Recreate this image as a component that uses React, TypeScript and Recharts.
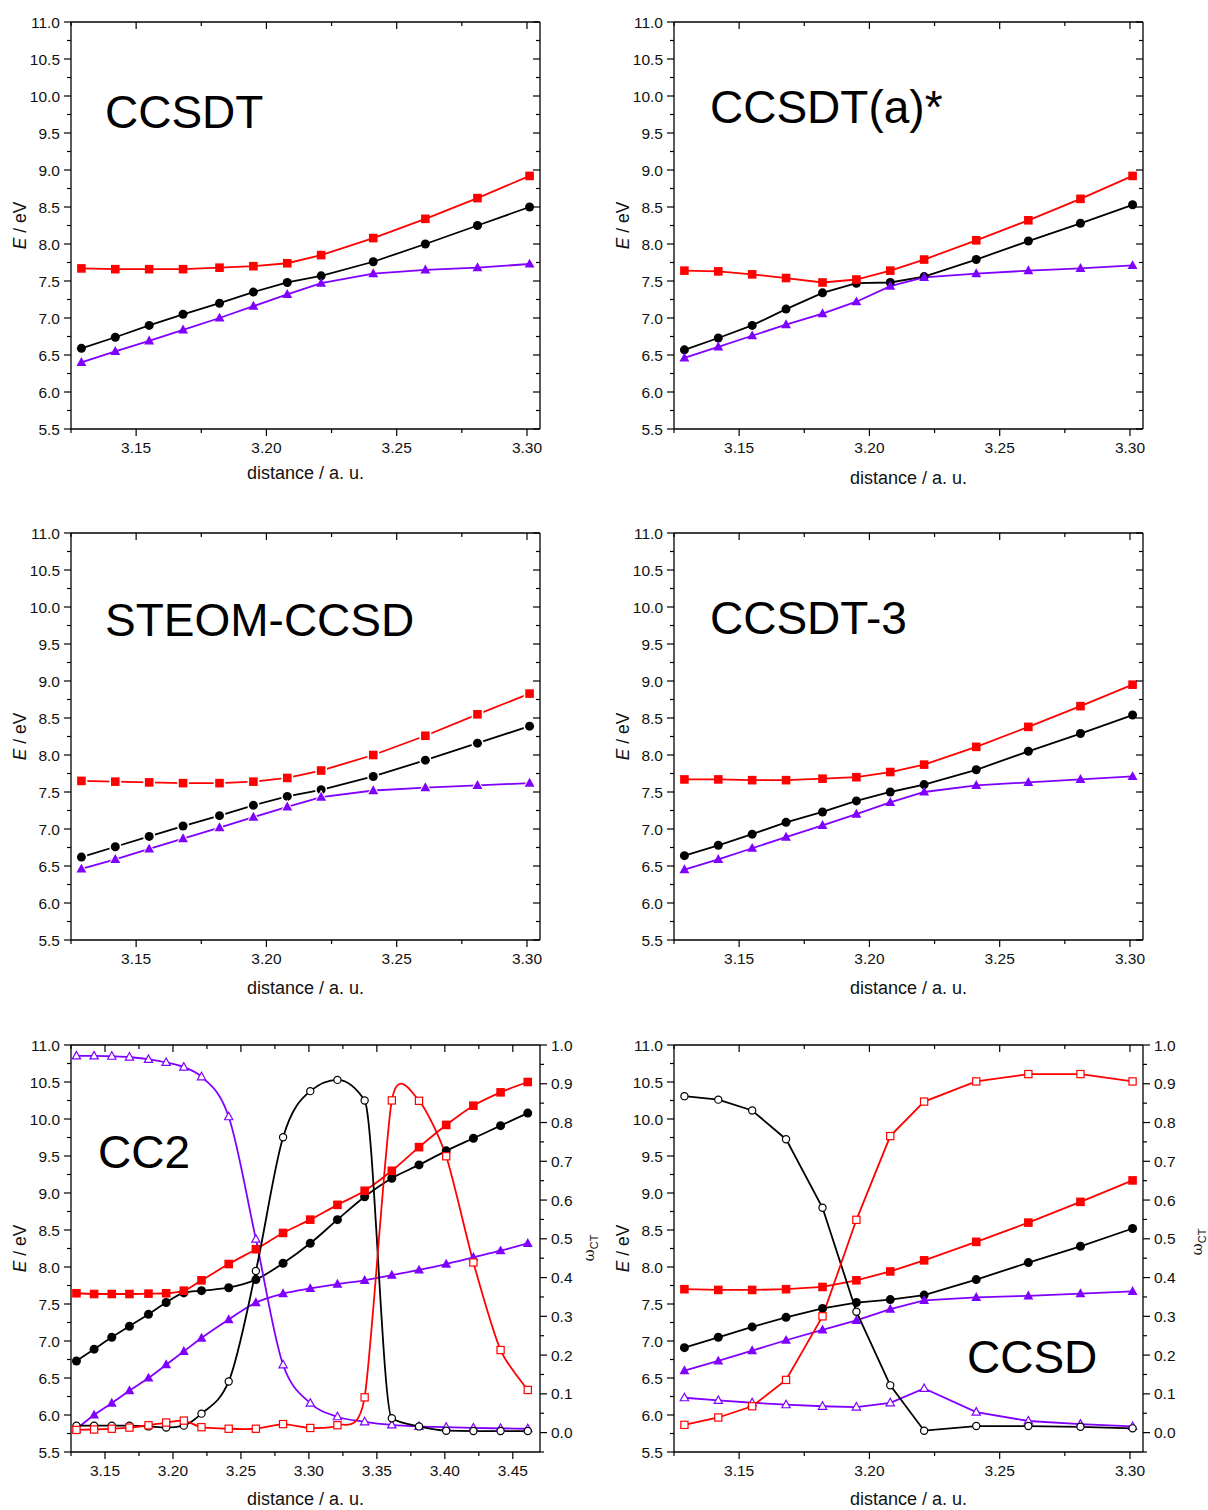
import React from "react";
import { LineChart, Line, XAxis, YAxis } from "recharts";

const FONT = '"Liberation Sans", Arial, sans-serif';
const RED = "#ff0000";
const BLACK = "#000000";
const VIOLET = "#8000ff";

// distances (a. u.)
const DIST = [3.129, 3.142, 3.155, 3.168, 3.182, 3.195, 3.208, 3.221, 3.241, 3.261, 3.281, 3.301];
const DIST_CC2 = [
  3.129, 3.142, 3.155, 3.168, 3.182, 3.195, 3.208, 3.221, 3.241, 3.261,
  3.281, 3.301, 3.321, 3.341, 3.361, 3.381, 3.401, 3.421, 3.441, 3.461,
];

// ticks
const X_TICKS = [3.125, 3.15, 3.175, 3.2, 3.225, 3.25, 3.275, 3.3];
const X_TICKS_CC2 = [3.125, 3.15, 3.175, 3.2, 3.225, 3.25, 3.275, 3.3, 3.325, 3.35, 3.375, 3.4, 3.425, 3.45];
const X_MAJOR = [3.15, 3.2, 3.25, 3.3, 3.35, 3.4, 3.45];
const E_TICKS = [5.5, 5.75, 6, 6.25, 6.5, 6.75, 7, 7.25, 7.5, 7.75, 8, 8.25, 8.5, 8.75, 9, 9.25, 9.5, 9.75, 10, 10.25, 10.5, 10.75, 11];
const E_MAJOR = [5.5, 6, 6.5, 7, 7.5, 8, 8.5, 9, 9.5, 10, 10.5, 11];
const W_TICKS = [-0.05, 0, 0.05, 0.1, 0.15, 0.2, 0.25, 0.3, 0.35, 0.4, 0.45, 0.5, 0.55, 0.6, 0.65, 0.7, 0.75, 0.8, 0.85, 0.9, 0.95, 1];
const W_MAJOR = [0, 0.1, 0.2, 0.3, 0.4, 0.5, 0.6, 0.7, 0.8, 0.9, 1];

// CCSDT
const CCSDT_RED = [7.67, 7.66, 7.66, 7.66, 7.68, 7.7, 7.74, 7.85, 8.08, 8.34, 8.62, 8.92];
const CCSDT_BLACK = [6.59, 6.74, 6.9, 7.05, 7.2, 7.35, 7.48, 7.57, 7.76, 8.0, 8.25, 8.5];
const CCSDT_VIOLET = [6.4, 6.55, 6.69, 6.84, 7.0, 7.16, 7.32, 7.47, 7.6, 7.65, 7.68, 7.73];

// CCSDT(a)*
const CCSDTA_RED = [7.64, 7.63, 7.59, 7.54, 7.48, 7.52, 7.64, 7.79, 8.05, 8.32, 8.61, 8.92];
const CCSDTA_BLACK = [6.57, 6.73, 6.9, 7.12, 7.34, 7.47, 7.48, 7.56, 7.79, 8.04, 8.28, 8.53];
const CCSDTA_VIOLET = [6.46, 6.61, 6.76, 6.91, 7.06, 7.22, 7.43, 7.55, 7.6, 7.64, 7.67, 7.71];

// STEOM-CCSD
const STEOM_RED = [7.65, 7.64, 7.63, 7.62, 7.62, 7.64, 7.69, 7.79, 8.0, 8.26, 8.55, 8.83];
const STEOM_BLACK = [6.62, 6.76, 6.9, 7.04, 7.18, 7.32, 7.44, 7.53, 7.71, 7.93, 8.16, 8.39];
const STEOM_VIOLET = [6.46, 6.59, 6.73, 6.87, 7.02, 7.16, 7.3, 7.43, 7.52, 7.56, 7.59, 7.62];

// CCSDT-3
const CCSDT3_RED = [7.67, 7.67, 7.66, 7.66, 7.68, 7.7, 7.77, 7.87, 8.11, 8.38, 8.66, 8.95];
const CCSDT3_BLACK = [6.64, 6.78, 6.93, 7.09, 7.23, 7.38, 7.5, 7.6, 7.8, 8.05, 8.29, 8.54];
const CCSDT3_VIOLET = [6.45, 6.59, 6.74, 6.89, 7.05, 7.2, 7.36, 7.5, 7.59, 7.63, 7.67, 7.71];

// CC2: energies and CT weights
const CC2_RED = [7.645, 7.635, 7.635, 7.635, 7.64, 7.645, 7.68, 7.82, 8.04, 8.24, 8.46, 8.64, 8.84, 9.03, 9.3, 9.62, 9.92, 10.18, 10.36, 10.5];
const CC2_BLACK = [6.73, 6.89, 7.05, 7.2, 7.36, 7.52, 7.65, 7.68, 7.72, 7.83, 8.05, 8.32, 8.64, 8.95, 9.2, 9.38, 9.57, 9.74, 9.91, 10.08];
const CC2_VIOLET = [5.81, 6.0, 6.16, 6.33, 6.5, 6.68, 6.86, 7.04, 7.29, 7.52, 7.64, 7.71, 7.77, 7.82, 7.89, 7.96, 8.04, 8.13, 8.22, 8.32];
const CC2_RED_CT = [0.007, 0.008, 0.01, 0.013, 0.019, 0.026, 0.031, 0.014, 0.01, 0.01, 0.022, 0.012, 0.019, 0.091, 0.857, 0.856, 0.713, 0.439, 0.213, 0.11];
const CC2_BLACK_CT = [0.018, 0.018, 0.018, 0.018, 0.016, 0.013, 0.018, 0.049, 0.132, 0.417, 0.762, 0.881, 0.91, 0.857, 0.037, 0.016, 0.005, 0.004, 0.004, 0.004];
const CC2_VIOLET_CT = [0.972, 0.972, 0.971, 0.969, 0.963, 0.955, 0.943, 0.918, 0.815, 0.499, 0.175, 0.076, 0.041, 0.028, 0.02, 0.016, 0.014, 0.012, 0.011, 0.01];

// CCSD: energies and CT weights
const CCSD_RED = [7.7, 7.69, 7.69, 7.7, 7.73, 7.82, 7.94, 8.09, 8.34, 8.6, 8.88, 9.17];
const CCSD_BLACK = [6.91, 7.05, 7.19, 7.32, 7.44, 7.52, 7.56, 7.62, 7.83, 8.06, 8.28, 8.52];
const CCSD_VIOLET = [6.6, 6.73, 6.87, 7.01, 7.15, 7.28, 7.43, 7.55, 7.59, 7.61, 7.64, 7.67];
const CCSD_RED_CT = [0.02, 0.039, 0.068, 0.136, 0.3, 0.549, 0.765, 0.854, 0.906, 0.925, 0.925, 0.906];
const CCSD_BLACK_CT = [0.868, 0.859, 0.831, 0.757, 0.58, 0.312, 0.122, 0.005, 0.017, 0.017, 0.015, 0.011];
const CCSD_VIOLET_CT = [0.09, 0.083, 0.077, 0.072, 0.068, 0.066, 0.077, 0.114, 0.053, 0.03, 0.022, 0.016];

// plot box and the space around it
const PW = 469;
const PH = 407;
const LEFT_W = 71; // left y axis box
const TOP_H = 10; // top x axis box
const TOP_M = 12;
const RIGHT_W = 40; // right y axis box
const RIGHT_M = 22;
const BOTTOM_H = 40; // bottom x axis box
const BOTTOM_M = 15;

const isMajor = (v: number, majors: number[]) => majors.some((m) => Math.abs(m - v) < 1e-6);

// catmull-rom style spline through the points (origin "spline" look)
function cardinal(tension: number) {
  const k = (1 - tension) / 6;
  return (context: any) => {
    let pts: number[][] = [];
    return {
      areaStart() {},
      areaEnd() {},
      lineStart() {
        pts = [];
      },
      point(x: number, y: number) {
        pts.push([+x, +y]);
      },
      lineEnd() {
        const n = pts.length;
        if (!n) return;
        context.moveTo(pts[0][0], pts[0][1]);
        for (let i = 0; i < n - 1; i++) {
          const p0 = pts[Math.max(i - 1, 0)];
          const p1 = pts[i];
          const p2 = pts[i + 1];
          const p3 = pts[Math.min(i + 2, n - 1)];
          context.bezierCurveTo(
            p1[0] + (p2[0] - p0[0]) * k,
            p1[1] + (p2[1] - p0[1]) * k,
            p2[0] - (p3[0] - p1[0]) * k,
            p2[1] - (p3[1] - p1[1]) * k,
            p2[0],
            p2[1]
          );
        }
      },
    };
  };
}

const labelStyle = { fontFamily: FONT, fontSize: 15.5, fill: "#111" };

const bottomTick = (p: any) => {
  const v = p.payload.value;
  const major = isMajor(v, X_MAJOR);
  return (
    <g>
      <line x1={p.x} x2={p.x} y1={p.y} y2={p.y + (major ? 7 : 4)} stroke="#000" strokeWidth={1.2} />
      {major && (
        <text x={p.x} y={p.y + 24} textAnchor="middle" {...labelStyle}>
          {v.toFixed(2)}
        </text>
      )}
    </g>
  );
};

const topTick = (p: any) => {
  const major = isMajor(p.payload.value, X_MAJOR);
  return <line x1={p.x} x2={p.x} y1={p.y} y2={p.y + (major ? 7 : 4)} stroke="#000" strokeWidth={1.2} />;
};

const leftTick = (p: any) => {
  const v = p.payload.value;
  const major = isMajor(v, E_MAJOR);
  return (
    <g>
      <line x1={p.x - (major ? 7 : 4)} x2={p.x} y1={p.y} y2={p.y} stroke="#000" strokeWidth={1.2} />
      {major && (
        <text x={p.x - 11} y={p.y} dy="0.36em" textAnchor="end" {...labelStyle}>
          {v.toFixed(1)}
        </text>
      )}
    </g>
  );
};

const rightInnerTick = (p: any) => {
  const major = isMajor(p.payload.value, E_MAJOR);
  return <line x1={p.x - (major ? 7 : 4)} x2={p.x} y1={p.y} y2={p.y} stroke="#000" strokeWidth={1.2} />;
};

const rightWeightTick = (p: any) => {
  const v = p.payload.value;
  const major = isMajor(v, W_MAJOR);
  return (
    <g>
      <line x1={p.x} x2={p.x + (major ? 7 : 4)} y1={p.y} y2={p.y} stroke="#000" strokeWidth={1.2} />
      {major && (
        <text x={p.x + 11} y={p.y} dy="0.36em" textAnchor="start" {...labelStyle}>
          {v.toFixed(1)}
        </text>
      )}
    </g>
  );
};

type Marker = "square" | "circle" | "triangle";

function markerShape(kind: Marker, cx: number, cy: number, color: string, open: boolean, grow: number, fill: string) {
  const s = (open ? 7.2 : 8.6) + grow * 2;
  const common = { fill, stroke: open && grow === 0 ? color : "none", strokeWidth: 1.2 };
  if (kind === "square") return <rect x={cx - s / 2} y={cy - s / 2} width={s} height={s} {...common} />;
  if (kind === "circle") return <circle cx={cx} cy={cy} r={s / 2 + (open ? 0 : 0.2)} {...common} />;
  const h = s;
  const w = s * 1.15;
  return <polygon points={`${cx},${cy - h * 0.62} ${cx - w / 2},${cy + h * 0.42} ${cx + w / 2},${cy + h * 0.42}`} {...common} />;
}

const makeDot = (kind: Marker, color: string, open: boolean, halo: boolean) => (p: any) => {
  if (p.cx == null || p.cy == null) return <g key={p.index} />;
  return (
    <g key={p.index}>
      {halo && markerShape(kind, p.cx, p.cy, color, open, 1.6, "#fff")}
      {markerShape(kind, p.cx, p.cy, color, open, 0, open ? "#fff" : color)}
    </g>
  );
};

type Series = {
  key: string;
  values: number[];
  color: string;
  marker: Marker;
  open?: boolean;
  axis: "e" | "w";
  curve?: any;
};

type PanelProps = {
  left: number;
  top: number;
  dist: number[];
  series: Series[];
  xDomain: [number, number];
  xTicks: number[];
  omega?: boolean;
  halo?: boolean;
};

function Panel({ left, top, dist, series, xDomain, xTicks, omega, halo }: PanelProps) {
  const data = dist.map((d, i) => {
    const row: Record<string, number> = { x: d };
    series.forEach((s) => {
      row[s.key] = s.values[i];
    });
    return row;
  });
  const axisLine = { stroke: "#000", strokeWidth: 1.3 };
  return (
    <div style={{ position: "absolute", left: left - LEFT_W, top: top - TOP_H - TOP_M }}>
      <LineChart
        width={LEFT_W + PW + RIGHT_W + RIGHT_M}
        height={TOP_M + TOP_H + PH + BOTTOM_H + BOTTOM_M}
        data={data}
        margin={{ top: TOP_M, right: RIGHT_M, bottom: BOTTOM_M, left: 0 }}
      >
        <XAxis
          xAxisId="b"
          type="number"
          dataKey="x"
          domain={xDomain}
          ticks={xTicks}
          interval={0}
          allowDataOverflow
          height={BOTTOM_H}
          tickSize={0}
          tickMargin={0}
          tickLine={false}
          tick={bottomTick}
          axisLine={axisLine}
        />
        <XAxis
          xAxisId="t"
          orientation="top"
          type="number"
          dataKey="x"
          domain={xDomain}
          ticks={xTicks}
          interval={0}
          allowDataOverflow
          height={TOP_H}
          tickSize={0}
          tickMargin={0}
          tickLine={false}
          tick={topTick}
          axisLine={axisLine}
        />
        <YAxis
          yAxisId="e"
          type="number"
          domain={[5.5, 11]}
          ticks={E_TICKS}
          interval={0}
          allowDataOverflow
          width={LEFT_W}
          tickSize={0}
          tickMargin={0}
          tickLine={false}
          tick={leftTick}
          axisLine={axisLine}
        />
        {omega ? (
          <YAxis
            yAxisId="w"
            orientation="right"
            type="number"
            domain={[-0.05, 1]}
            ticks={W_TICKS}
            interval={0}
            allowDataOverflow
            width={RIGHT_W}
            tickSize={0}
            tickMargin={0}
            tickLine={false}
            tick={rightWeightTick}
            axisLine={axisLine}
          />
        ) : (
          <YAxis
            yAxisId="r"
            orientation="right"
            type="number"
            domain={[5.5, 11]}
            ticks={E_TICKS}
            interval={0}
            allowDataOverflow
            width={RIGHT_W}
            tickSize={0}
            tickMargin={0}
            tickLine={false}
            tick={rightInnerTick}
            axisLine={axisLine}
          />
        )}
        {series.map((s) => (
          <Line
            key={s.key}
            xAxisId="b"
            yAxisId={s.axis}
            dataKey={s.key}
            type={s.curve || "linear"}
            stroke={s.color}
            strokeWidth={1.8}
            dot={makeDot(s.marker, s.color, !!s.open, !!halo)}
            activeDot={false}
            isAnimationActive={false}
          />
        ))}
      </LineChart>
    </div>
  );
}

const energySeries = (red: number[], black: number[], violet: number[]): Series[] => [
  { key: "black", values: black, color: BLACK, marker: "circle", axis: "e" },
  { key: "red", values: red, color: RED, marker: "square", axis: "e" },
  { key: "violet", values: violet, color: VIOLET, marker: "triangle", axis: "e" },
];

const spline = cardinal(0.3);

const cc2Series: Series[] = [
  ...energySeries(CC2_RED, CC2_BLACK, CC2_VIOLET).map((s) => ({ ...s, curve: "monotone" })),
  { key: "violetCT", values: CC2_VIOLET_CT, color: VIOLET, marker: "triangle", open: true, axis: "w", curve: "monotone" },
  { key: "blackCT", values: CC2_BLACK_CT, color: BLACK, marker: "circle", open: true, axis: "w", curve: "monotone" },
  { key: "redCT", values: CC2_RED_CT, color: RED, marker: "square", open: true, axis: "w", curve: spline },
];

const ccsdSeries: Series[] = [
  ...energySeries(CCSD_RED, CCSD_BLACK, CCSD_VIOLET),
  { key: "violetCT", values: CCSD_VIOLET_CT, color: VIOLET, marker: "triangle", open: true, axis: "w" },
  { key: "blackCT", values: CCSD_BLACK_CT, color: BLACK, marker: "circle", open: true, axis: "w" },
  { key: "redCT", values: CCSD_RED_CT, color: RED, marker: "square", open: true, axis: "w" },
];

const X1 = 71;
const X2 = 674;
const Y1 = 22;
const Y2 = 533;
const Y3 = 1045;

function Titles() {
  const big = { fontFamily: FONT, fontSize: 46, fill: "#000" };
  const axisT = { fontFamily: FONT, fontSize: 18, fill: "#111" };
  const eLabel = (x: number, y: number) => (
    <text transform={`translate(${x},${y}) rotate(-90)`} textAnchor="middle" {...axisT} fontSize={17.5}>
      <tspan fontStyle="italic">E</tspan> / eV
    </text>
  );
  const dLabel = (x: number, y: number) => (
    <text x={x} y={y} textAnchor="middle" {...axisT}>
      distance / a. u.
    </text>
  );
  const wLabel = (x: number, y: number) => (
    <text transform={`translate(${x},${y}) rotate(-90)`} textAnchor="middle" fill="#111">
      <tspan fontFamily='"DejaVu Serif", serif' fontSize={15}>ω</tspan>
      <tspan fontFamily={FONT} fontSize={11} dy={4}>CT</tspan>
    </text>
  );
  return (
    <svg width={1208} height={1510} style={{ position: "absolute", left: 0, top: 0, pointerEvents: "none" }}>
      <text x={105} y={128} {...big}>CCSDT</text>
      <text x={710} y={123} {...big}>CCSDT(a)*</text>
      <text x={105} y={636} {...big}>STEOM-CCSD</text>
      <text x={710} y={634} {...big}>CCSDT-3</text>
      <text x={98} y={1168} {...big}>CC2</text>
      <text x={967} y={1373} {...big}>CCSD</text>

      {eLabel(26, Y1 + PH / 2)}
      {eLabel(X2 - 45, Y1 + PH / 2)}
      {eLabel(26, Y2 + PH / 2)}
      {eLabel(X2 - 45, Y2 + PH / 2)}
      {eLabel(26, Y3 + PH / 2)}
      {eLabel(X2 - 45, Y3 + PH / 2)}

      {dLabel(X1 + PW / 2, 479)}
      {dLabel(X2 + PW / 2, 484)}
      {dLabel(X1 + PW / 2, 994)}
      {dLabel(X2 + PW / 2, 994)}
      {dLabel(X1 + PW / 2, 1505)}
      {dLabel(X2 + PW / 2, 1505)}

      {wLabel(594, 1248)}
      {wLabel(1202, 1242)}
    </svg>
  );
}

export default function App() {
  return (
    <div style={{ position: "absolute", left: 0, top: 0, width: 1208, height: 1510, background: "#fff" }}>
      <style>{`html, body { margin: 0; overflow: hidden; background: #fff; }`}</style>
      <Panel left={X1} top={Y1} dist={DIST} series={energySeries(CCSDT_RED, CCSDT_BLACK, CCSDT_VIOLET)} xDomain={[3.125, 3.305]} xTicks={X_TICKS} />
      <Panel left={X2} top={Y1} dist={DIST} series={energySeries(CCSDTA_RED, CCSDTA_BLACK, CCSDTA_VIOLET)} xDomain={[3.125, 3.305]} xTicks={X_TICKS} />
      <Panel left={X1} top={Y2} dist={DIST} series={energySeries(STEOM_RED, STEOM_BLACK, STEOM_VIOLET)} xDomain={[3.125, 3.305]} xTicks={X_TICKS} halo />
      <Panel left={X2} top={Y2} dist={DIST} series={energySeries(CCSDT3_RED, CCSDT3_BLACK, CCSDT3_VIOLET)} xDomain={[3.125, 3.305]} xTicks={X_TICKS} />
      <Panel left={X1} top={Y3} dist={DIST_CC2} series={cc2Series} xDomain={[3.125, 3.47]} xTicks={X_TICKS_CC2} omega />
      <Panel left={X2} top={Y3} dist={DIST} series={ccsdSeries} xDomain={[3.125, 3.305]} xTicks={X_TICKS} omega />
      <Titles />
    </div>
  );
}
